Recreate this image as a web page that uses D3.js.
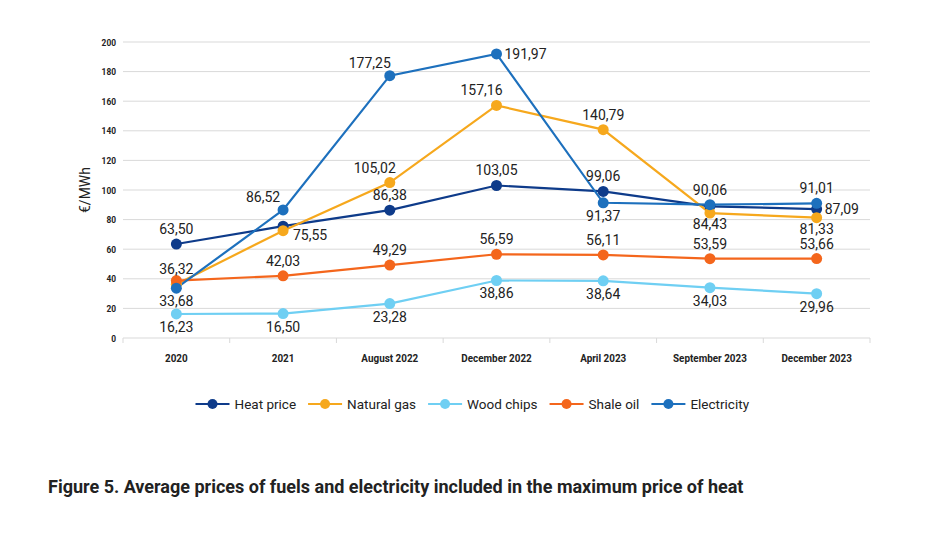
<!DOCTYPE html>
<html><head><meta charset="utf-8">
<script src="https://cdn.jsdelivr.net/npm/d3@7"></script>
<style>
html,body{margin:0;padding:0;background:#fff;}
svg{display:block;font-family:Roboto,"Noto Sans",sans-serif;}
</style></head>
<body><svg id="chart" width="928" height="535"></svg>
<script>
const categories = ["2020","2021","August 2022","December 2022","April 2023","September 2023","December 2023"];
const yTicks = [0,20,40,60,80,100,120,140,160,180,200];
const seriesNames = ["Heat price","Natural gas","Wood chips","Shale oil","Electricity"];
const heatPrice   = [63.50, 75.55, 86.38, 103.05, 99.06, 89.00, 87.09];
const naturalGas  = [36.32, 72.50, 105.02, 157.16, 140.79, 84.43, 81.33];
const woodChips   = [16.23, 16.50, 23.28, 38.86, 38.64, 34.03, 29.96];
const shaleOil    = [38.80, 42.03, 49.29, 56.59, 56.11, 53.59, 53.66];
const electricity = [33.68, 86.52, 177.25, 191.97, 91.37, 90.06, 91.01];
// which points carry a data label (1 = shown)
const heatShown  = [1,1,1,1,1,0,1];
const gasShown   = [1,0,1,1,1,1,1];
const woodShown  = [1,1,1,1,1,1,1];
const shaleShown = [0,1,1,1,1,1,1];
const elecShown  = [1,1,1,1,1,1,1];
const title = "Figure 5. Average prices of fuels and electricity included in the maximum price of heat";
const yTitle = "€/MWh";

// label placements (style only)
const heatPos  = ["a","br","a","a","a","a","r"];
const gasPos   = ["a","a","am","am","a","b2","b2"];
const woodPos  = ["b","b","b","b","b","b","b"];
const shalePos = ["a","a","a","a","a","a","a"];
const elecPos  = ["b","al","al","r","b","a","a"];
const colors = ["#0e3b8a","#f6a81d","#6fcff3","#f4661c","#1d70bd"];

const series = [
  {name:seriesNames[0], values:heatPrice, shown:heatShown, pos:heatPos, color:colors[0]},
  {name:seriesNames[1], values:naturalGas, shown:gasShown, pos:gasPos, color:colors[1]},
  {name:seriesNames[2], values:woodChips, shown:woodShown, pos:woodPos, color:colors[2]},
  {name:seriesNames[3], values:shaleOil, shown:shaleShown, pos:shalePos, color:colors[3]},
  {name:seriesNames[4], values:electricity, shown:elecShown, pos:elecPos, color:colors[4]}
];

const svg = d3.select("#chart");
const L = 123, R = 870, T = 42, B = 338;
const x = d3.scaleBand().domain(categories).range([L,R]);
const cx = c => x(c) + x.bandwidth()/2;
const y = d3.scaleLinear().domain([0,200]).range([B,T]);

// gridlines
svg.append("g").selectAll("line").data(yTicks).join("line")
  .attr("x1",L).attr("x2",R).attr("y1",d=>y(d)).attr("y2",d=>y(d))
  .attr("stroke","#d9d9d9").attr("stroke-width",1);

// x tick marks at band boundaries
const bounds = categories.map(c=>x(c)).concat([R]);
svg.append("g").selectAll("line").data(bounds).join("line")
  .attr("x1",d=>d).attr("x2",d=>d).attr("y1",B).attr("y2",B+5)
  .attr("stroke","#d9d9d9").attr("stroke-width",1);

// y tick labels (condensed bold)
svg.append("g").selectAll("text").data(yTicks).join("text")
  .attr("transform",d=>`translate(116,${y(d)+3.5}) scale(0.88,1)`)
  .attr("text-anchor","end").attr("font-size",9.5).attr("font-weight","bold")
  .attr("fill","#222").text(d=>d);

// x labels
svg.append("g").selectAll("text").data(categories).join("text")
  .attr("transform",d=>`translate(${cx(d)},${362}) scale(0.86,1)`)
  .attr("text-anchor","middle").attr("font-size",11.5).attr("font-weight","bold")
  .attr("fill","#222").text(d=>d);

// y title
svg.append("text").attr("transform",`translate(90,190) rotate(-90)`)
  .attr("text-anchor","middle").attr("font-size",14).attr("fill","#222").text(yTitle);

// lines
const line = d3.line().x((d,i)=>cx(categories[i])).y(d=>y(d));
svg.append("g").selectAll("path").data(series).join("path")
  .attr("d",s=>line(s.values)).attr("fill","none")
  .attr("stroke",s=>s.color).attr("stroke-width",2.2);

// dots
series.forEach(s=>{
  svg.append("g").selectAll("circle").data(s.values).join("circle")
    .attr("cx",(d,i)=>cx(categories[i])).attr("cy",d=>y(d)).attr("r",5.5)
    .attr("fill",s.color);
});

// data labels
const fmt = v => v.toFixed(2).replace(".",",");
const off = {a:[0,-10,"middle"], b:[0,18,"middle"], b2:[0,16,"middle"], r:[8,5,"start"],
             al:[-20,-8,"middle"], am:[-15,-10,"middle"], br:[27,14,"middle"]};
series.forEach(s=>{
  const pts = s.values.map((v,i)=>({v,i})).filter(p=>s.shown[p.i]);
  svg.append("g").selectAll("text").data(pts).join("text")
    .attr("x",p=>cx(categories[p.i]) + off[s.pos[p.i]][0])
    .attr("y",p=>y(p.v) + off[s.pos[p.i]][1])
    .attr("text-anchor",p=>off[s.pos[p.i]][2])
    .attr("font-size",14).attr("fill","#222").text(p=>fmt(p.v));
});

// legend
const lg = svg.append("g");
let lx = 195.5; const ly = 404;
series.forEach(s=>{
  lg.append("line").attr("x1",lx).attr("x2",lx+34).attr("y1",ly).attr("y2",ly)
    .attr("stroke",s.color).attr("stroke-width",2.2);
  lg.append("circle").attr("cx",lx+17).attr("cy",ly).attr("r",5).attr("fill",s.color);
  const t = lg.append("text").attr("x",lx+39).attr("y",ly+5).attr("font-size",13.5)
    .attr("fill","#222").text(s.name);
  lx += 39 + t.node().getComputedTextLength() + 12;
});

// title
svg.append("text").attr("x",48).attr("y",493).attr("font-size",18).attr("font-weight","bold")
  .attr("fill","#222").text(title);
</script></body></html>
